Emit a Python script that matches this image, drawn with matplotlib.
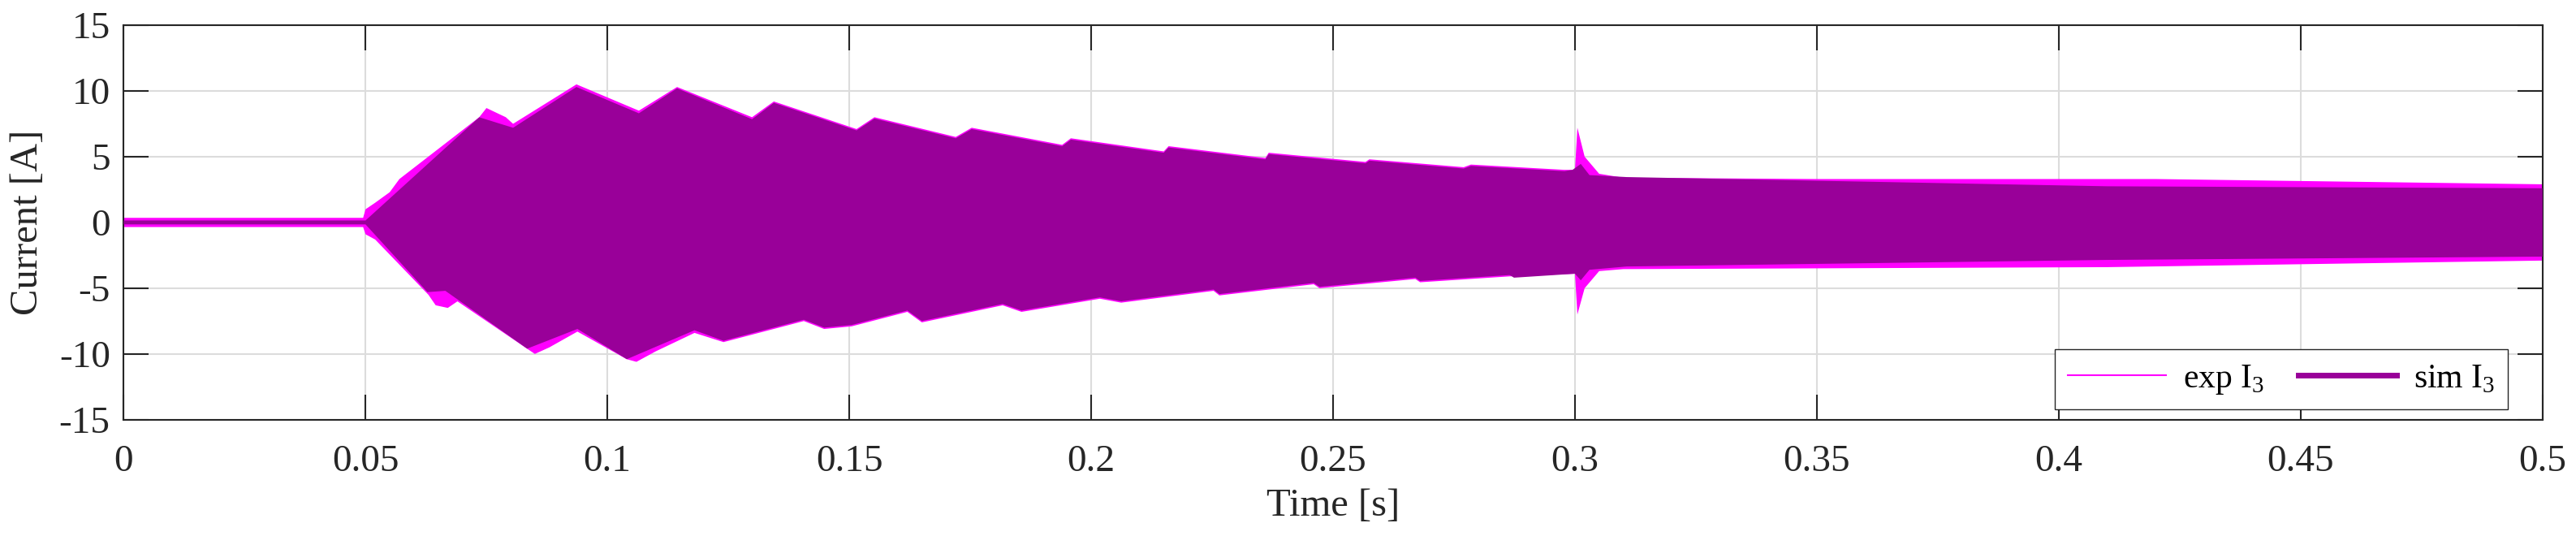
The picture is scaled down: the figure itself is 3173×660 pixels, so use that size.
import matplotlib
matplotlib.use("Agg")
import matplotlib.pyplot as plt
from matplotlib.lines import Line2D

plt.rcParams['font.family'] = ['Liberation Serif', 'DejaVu Serif']
plt.rcParams['mathtext.fontset'] = 'custom'
plt.rcParams['mathtext.rm'] = 'Liberation Serif'
plt.rcParams['axes.unicode_minus'] = False

# simulated current envelope (upper / lower)
t_sim_up = [0, 0.05, 0.0735, 0.0805, 0.0936, 0.1065, 0.1144, 0.1299, 0.1344, 0.1515, 0.1552,
            0.172, 0.1753, 0.194, 0.1958, 0.215, 0.216, 0.236, 0.2367, 0.2567, 0.2575, 0.277,
            0.2785, 0.2978, 0.2995, 0.3012, 0.303, 0.3107, 0.41, 0.5]
sim_up = [0.15, 0.15, 8.0, 7.2, 10.3, 8.3, 10.2, 7.85, 9.1, 7.0, 7.9,
          6.4, 7.1, 5.8, 6.3, 5.3, 5.7, 4.8, 5.2, 4.5, 4.7, 4.1,
          4.3, 3.9, 4.0, 4.45, 3.6, 3.45, 2.75, 2.6]
t_sim_lo = [0, 0.05, 0.0628, 0.0665, 0.0834, 0.0938, 0.104, 0.118, 0.124, 0.1406, 0.1448,
            0.1505, 0.162, 0.165, 0.1817, 0.1856, 0.2018, 0.2062, 0.2253, 0.2265, 0.246,
            0.2472, 0.267, 0.268, 0.2865, 0.2874, 0.3, 0.3012, 0.303, 0.3107, 0.41, 0.5]
sim_lo = [-0.15, -0.15, -5.3, -5.2, -9.6, -8.1, -10.4, -8.2, -9.0, -7.4, -8.0,
          -7.8, -6.7, -7.5, -6.2, -6.7, -5.7, -6.0, -5.1, -5.45, -4.6,
          -4.9, -4.2, -4.45, -4.0, -4.2, -3.9, -4.4, -3.6, -3.35, -2.85, -2.6]

# experimental current envelope (upper / lower)
t_exp_up = [0, 0.0495, 0.05, 0.052, 0.055, 0.057, 0.0735, 0.075, 0.079, 0.0805, 0.0936,
            0.1065, 0.1144, 0.1299, 0.1344, 0.1515, 0.1552, 0.172, 0.1753, 0.194, 0.1958,
            0.215, 0.216, 0.236, 0.2367, 0.2567, 0.2575, 0.277, 0.2785, 0.2978, 0.3,
            0.3005, 0.302, 0.305, 0.31, 0.35, 0.42, 0.5]
exp_up = [0.35, 0.35, 1.0, 1.5, 2.3, 3.3, 8.0, 8.7, 8.0, 7.5, 10.5,
          8.5, 10.3, 8.0, 9.2, 7.1, 8.0, 6.5, 7.2, 5.9, 6.4,
          5.4, 5.8, 4.9, 5.3, 4.6, 4.8, 4.2, 4.4, 4.0, 4.0,
          7.2, 5.0, 3.7, 3.4, 3.3, 3.3, 2.9]
t_exp_lo = [0, 0.0495, 0.05, 0.052, 0.063, 0.0645, 0.067, 0.069, 0.0834, 0.085, 0.088,
            0.0938, 0.104, 0.106, 0.11, 0.118, 0.124, 0.1406, 0.1448, 0.1505, 0.162, 0.165,
            0.1817, 0.1856, 0.2018, 0.2062, 0.2253, 0.2265, 0.246, 0.2472, 0.267, 0.268,
            0.2865, 0.3, 0.3005, 0.302, 0.305, 0.31, 0.41, 0.5]
exp_lo = [-0.35, -0.35, -0.9, -1.3, -5.5, -6.3, -6.5, -6.0, -9.6, -10.0, -9.5,
          -8.3, -10.4, -10.6, -9.8, -8.4, -9.1, -7.5, -8.1, -7.9, -6.8, -7.6,
          -6.3, -6.8, -5.8, -6.1, -5.2, -5.55, -4.7, -5.0, -4.3, -4.55,
          -4.1, -3.9, -7.0, -5.0, -3.7, -3.55, -3.4, -2.9]

xticks = [0, 0.05, 0.1, 0.15, 0.2, 0.25, 0.3, 0.35, 0.4, 0.45, 0.5]
xtick_labels = ['0', '0.05', '0.1', '0.15', '0.2', '0.25', '0.3', '0.35', '0.4', '0.45', '0.5']
yticks = [-15, -10, -5, 0, 5, 10, 15]

exp_color = '#FF00FF'
sim_color = '#990099'

fig = plt.figure(figsize=(31.73, 6.6), dpi=100)
ax = fig.add_axes([0.048, 0.217, 0.939, 0.736])

ax.fill(t_exp_up + t_exp_lo[::-1], exp_up + exp_lo[::-1], color=exp_color, lw=0, zorder=2)
ax.fill(t_sim_up + t_sim_lo[::-1], sim_up + sim_lo[::-1], color=sim_color, lw=0, zorder=3)

ax.set_xlim(0, 0.5)
ax.set_ylim(-15, 15)
ax.set_xticks(xticks)
ax.set_xticklabels(xtick_labels)
ax.set_yticks(yticks)
ax.grid(True, color='#dcdcdc', lw=1.5, zorder=0)
ax.set_axisbelow(True)
ax.tick_params(direction='in', length=22, width=1.5, labelsize=34, top=True, right=True,
               colors='#262626')
ax.tick_params(axis='x', pad=22)
ax.tick_params(axis='y', pad=12)
for s in ax.spines.values():
    s.set_linewidth(1.5)
    s.set_color('#262626')
ax.set_xlabel('Time [s]', fontsize=35, color='#262626', labelpad=8)
ax.set_ylabel('Current [A]', fontsize=35, color='#262626', labelpad=12)

handles = [Line2D([], [], color=exp_color, lw=1.5),
           Line2D([], [], color=sim_color, lw=5)]
ax.legend(handles, [r'exp I$_3$', r'sim I$_3$'], loc='lower right', ncol=2, fontsize=30,
          frameon=True, fancybox=False, edgecolor='#262626', framealpha=1,
          handlelength=2.9, handletextpad=0.5, columnspacing=1.0, borderaxespad=0.3,
          bbox_to_anchor=(0.99, 0.0))

fig.savefig('out.png', dpi=100)
